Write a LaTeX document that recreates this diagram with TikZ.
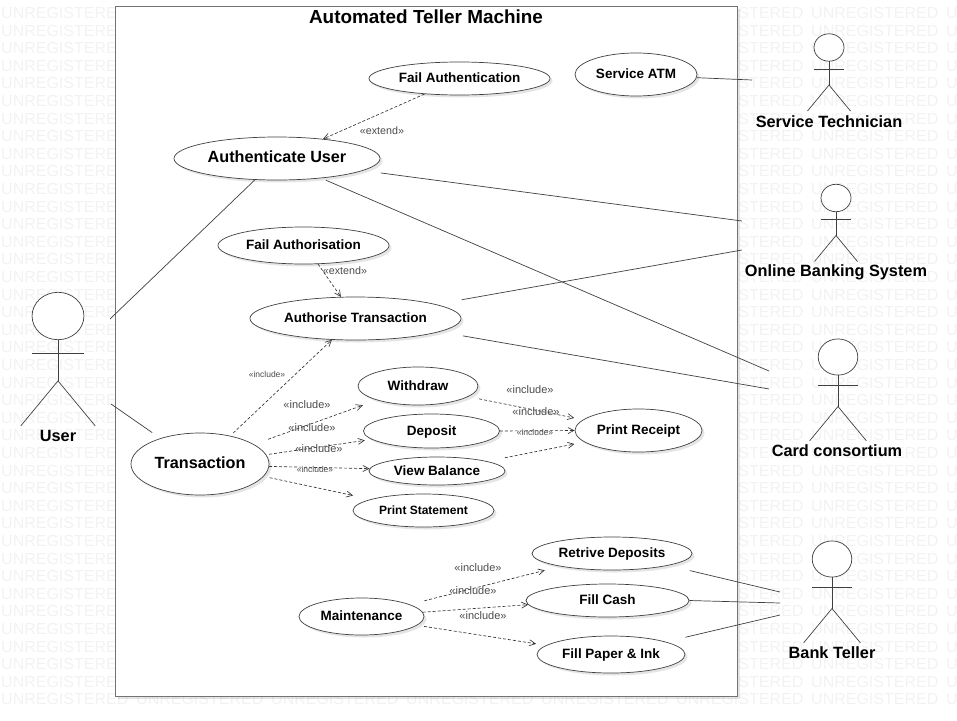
\documentclass[tikz,border=0pt]{standalone}
\usepackage{fontspec}
\setmainfont{Liberation Sans}
\usetikzlibrary{arrows.meta,positioning,shapes.geometric,shadows}

\begin{document}
\begin{tikzpicture}[
    x=1pt, y=-1pt,
    softshadow/.style={drop shadow={shadow xshift=2.5pt, shadow yshift=-2.5pt, opacity=.1, fill=black}},
    usecase/.style={draw=black!75, line width=.7pt, fill=white, ellipse, softshadow, inner sep=0pt, align=center, text=black, text height=1em, text depth=.14em, font=\fontsize{13.5}{15}\selectfont\bfseries},
    bigcase/.style={usecase, font=\fontsize{16.2}{18}\selectfont\bfseries},
    smallcase/.style={usecase, font=\fontsize{12}{14}\selectfont\bfseries},
    actorlabel/.style={text=black, inner sep=0pt, font=\fontsize{16.3}{18}\selectfont\bfseries},
    stereo/.style={text=black!70, inner sep=0pt, font=\fontsize{11}{12}\selectfont},
    stereosmall/.style={stereo, font=\fontsize{8.5}{10}\selectfont},
    link/.style={draw=black!75, line width=.7pt},
    dep/.style={draw=black!80, line width=.65pt, densely dashed, -{Straight Barb[length=6pt,width=6pt]}},
    stick/.style={draw=black!75, line width=.7pt},
    actorfig/.pic={
        \draw[stick, fill=white] (0,0) ellipse (15 and 13.7);
        \draw[stick] (-15,21.5) -- (15,21.5);
        \draw[stick] (0,13.7) -- (0,37.5);
        \draw[stick] (-21.5,63.5) -- (0,37.5) -- (21.5,63.5);
    }
]
\useasboundingbox (0,0) rectangle (957,720);

% watermark
\begin{scope}
\clip (0,0) rectangle (957,720);
\foreach \row in {0,...,39}
    \foreach \col in {0,...,7}
        \node[anchor=west, inner sep=0pt, text=black!5, font=\fontsize{16}{18}\selectfont] (mark\row-\col) at ({1+135*\col},{13+17.6*\row}) {UNREGISTERED};
\end{scope}

% system boundary
\node[draw=black!55, line width=1pt, fill=white, softshadow, minimum width=622pt, minimum height=690pt, inner sep=0pt] (system) at (426,351) {};
\node[inner sep=0pt, text=black, font=\fontsize{18.9}{20}\selectfont\bfseries] (title) at (426,17) {Automated Teller Machine};

% use cases
\node[usecase, minimum width=181pt, minimum height=33pt] (failauthn) at (459.5,78.5) {Fail Authentication};
\node[usecase, minimum width=122pt, minimum height=43pt] (service) at (636,74.5) {Service ATM};
\node[bigcase, minimum width=206pt, minimum height=43pt] (auth) at (277,158.5) {Authenticate User};
\node[usecase, minimum width=171pt, minimum height=37pt] (failauthz) at (303.5,245.5) {Fail Authorisation};
\node[usecase, minimum width=211pt, minimum height=43pt] (authz) at (355.5,318.5) {Authorise Transaction};
\node[usecase, minimum width=120pt, minimum height=38pt] (withdraw) at (418,386) {Withdraw};
\node[usecase, minimum width=136pt, minimum height=34pt] (deposit) at (431.5,431) {Deposit};
\node[usecase, minimum width=136pt, minimum height=28pt] (balance) at (437,471) {View Balance};
\node[smallcase, minimum width=141pt, minimum height=33pt] (statement) at (423.5,510.5) {Print Statement};
\node[usecase, minimum width=127pt, minimum height=43pt] (receipt) at (638.5,430.5) {Print Receipt};
\node[bigcase, minimum width=138pt, minimum height=62pt] (transaction) at (200,464) {Transaction};
\node[usecase, minimum width=160pt, minimum height=33pt] (deposits) at (612,553.5) {Retrive Deposits};
\node[usecase, minimum width=163pt, minimum height=33pt] (cash) at (607.5,600.5) {Fill Cash};
\node[usecase, minimum width=148pt, minimum height=37pt] (paper) at (611,654.5) {Fill Paper \& Ink};
\node[usecase, minimum width=125pt, minimum height=37pt] (maintenance) at (361.5,616.5) {Maintenance};

% actors
\pic[scale=1] (technician) at (829,47.5) {actorfig};
\pic[scale=1] (online) at (836,198) {actorfig};
\pic[scale=1.32] (consortium) at (838,357) {actorfig};
\pic[scale=1.32] (teller) at (832,559) {actorfig};
\pic[scale=1.73] (user) at (58,316) {actorfig};
\node[actorlabel] (technicianlbl) at (829,121.5) {Service Technician};
\node[actorlabel] (onlinelbl) at (836,272.5) {Online Banking System};
\node[actorlabel] (consortiumlbl) at (837,450.5) {Card consortium};
\node[actorlabel] (tellerlbl) at (832,652.5) {Bank Teller};
\node[actorlabel] (userlbl) at (58,436) {User};

% free ends next to the actors
\coordinate (techA) at (752,80);
\coordinate (onlineA) at (742,221);
\coordinate (onlineB) at (742,250);
\coordinate (cardA) at (769,371);
\coordinate (cardB) at (769,389);
\coordinate (bankA) at (780,592);
\coordinate (bankB) at (780,603);
\coordinate (bankC) at (780,615);
\coordinate (userA) at (110,319);
\coordinate (userB) at (111,404);

% associations
\draw[link] (service.-3) -- (techA);
\draw[link, shorten <=18pt] (auth.-8) -- (onlineA);
\draw[link, shorten <=5pt] (auth.-24) -- (cardA);
\draw[link, shorten <=26pt] (authz.10) -- (onlineB);
\draw[link, shorten <=24pt] (authz.-9) -- (cardB);
\draw[link] (userA) -- (auth.224);
\draw[link, shorten >=10pt] (userB) -- (transaction.147);
\draw[link, shorten <=22pt] (deposits.-12) -- (bankA);
\draw[link] (cash.east) -- (bankB);
\draw[link, shorten <=20pt] (paper.13.5) -- (bankC);

% extend and include
\draw[dep] (failauthn.204) -- (auth.23);
\draw[dep] (failauthz.308) -- (authz.124);
\draw[dep, shorten <=4pt] (transaction.43) -- (authz.222);
\draw[dep, shorten <=15pt, shorten >=15pt] (transaction.20) -- (withdraw.199);
\draw[dep, shorten <=3pt, shorten >=7pt] (transaction.8) -- (deposit.188);
\draw[dep] (transaction.-2) -- (balance.178);
\draw[dep, shorten <=6pt, shorten >=18pt] (transaction.-11.5) -- (statement.168);
\draw[dep, shorten <=11pt, shorten >=9pt] (withdraw.-12) -- (receipt.169);
\draw[dep] (deposit.east) -- (receipt.west);
\draw[dep, shorten <=18pt, shorten >=10pt] (balance.11) -- (receipt.192);
\draw[dep, shorten <=15pt, shorten >=16pt] (maintenance.14) -- (deposits.194);
\draw[dep] (maintenance.4) -- (cash.183);
\draw[dep, shorten <=7pt, shorten >=10pt] (maintenance.-9) -- (paper.172);

\node[stereo, font=\fontsize{10.7}{12}\selectfont] (extA) at (382,131) {«extend»};
\node[stereo, font=\fontsize{10.7}{12}\selectfont] (extB) at (345,271) {«extend»};
\node[stereosmall] (incAuthz) at (267,374) {«include»};
\node[stereo] (incWithdraw) at (307,405) {«include»};
\node[stereo] (incDeposit) at (312,428) {«include»};
\node[stereo] (incDepositB) at (319,449) {«include»};
\node[stereosmall] (incBalance) at (315,469) {«include»};
\node[stereo] (incReceiptA) at (530,390) {«include»};
\node[stereo] (incReceiptB) at (536,412) {«include»};
\node[stereosmall] (incReceiptC) at (535,432) {«include»};
\node[stereo] (incDeposits) at (478,568) {«include»};
\node[stereo] (incCash) at (473,591) {«include»};
\node[stereo] (incPaper) at (483,616) {«include»};
\end{tikzpicture}
\end{document}
